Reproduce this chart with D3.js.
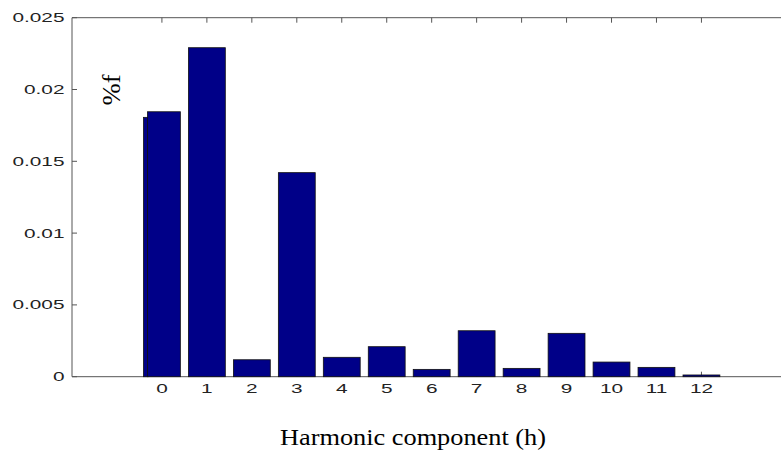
<!DOCTYPE html>
<html>
<head>
<meta charset="utf-8">
<script src="https://cdn.jsdelivr.net/npm/d3@7"></script>
<style>
body { margin: 0; background: #fff; }
svg { display: block; }
</style>
</head>
<body>
<svg></svg>
<script>
const width = 781;
const height = 454;
const barColor = '#000088';
const axisColor = '#555';
const stretch = 1.6;

// data
const harmonics = [0, 1, 2, 3, 4, 5, 6, 7, 8, 9, 10, 11, 12];
const values = [0.01845, 0.02291, 0.00118, 0.01421, 0.00135, 0.00209, 0.00051, 0.0032, 0.00058, 0.00302, 0.00102, 0.00065, 0.00012];
const ghostHarmonics = [0];
const ghostValues = [0.01806];
const yTicks = [0, 0.005, 0.01, 0.015, 0.02, 0.025];
const yTickLabels = ['0', '0.005', '0.01', '0.015', '0.02', '0.025'];
const xLabel = 'Harmonic component (h)';
const yLabel = '%f';

var svg = d3.select('svg').attr('width', width).attr('height', height);

var x = d3.scaleLinear().domain([-2, 15]).range([72, 72 + 17 * 44.96]);
var y = d3.scaleLinear().domain([0, 0.025]).range([376.7, 17.7]);
var barW = 0.82;

// axis box lines
svg.append('line').attr('x1', x(-2)).attr('x2', width).attr('y1', y(0)).attr('y2', y(0))
.style('stroke', axisColor);
svg.append('line').attr('x1', x(-2)).attr('x2', width).attr('y1', y(0.025)).attr('y2', y(0.025))
.style('stroke', axisColor);
svg.append('line').attr('x1', x(-2)).attr('x2', x(-2)).attr('y1', y(0)).attr('y2', y(0.025))
.style('stroke', axisColor);

// inner ticks
svg.selectAll('line.ytick').data(yTicks).enter().append('line').classed('ytick', true)
.attr('x1', x(-2)).attr('x2', x(-2) + 5)
.attr('y1', d => y(d)).attr('y2', d => y(d))
.style('stroke', axisColor);
svg.selectAll('line.xtick').data(harmonics).enter().append('line').classed('xtick', true)
.attr('x1', d => x(d)).attr('x2', d => x(d))
.attr('y1', y(0)).attr('y2', y(0) - 5)
.style('stroke', axisColor);
svg.selectAll('line.ttick').data(harmonics).enter().append('line').classed('ttick', true)
.attr('x1', d => x(d)).attr('x2', d => x(d))
.attr('y1', y(0.025)).attr('y2', y(0.025) + 5)
.style('stroke', axisColor);

// ghost step behind the first bar
svg.selectAll('rect.ghost').data(ghostHarmonics).enter().append('rect').classed('ghost', true)
.attr('x', d => x(d - barW / 2))
.attr('width', x(0.1) - x(0))
.attr('y', (d, i) => y(ghostValues[i]))
.attr('height', (d, i) => y(0) - y(ghostValues[i]))
.style('fill', barColor).style('stroke', '#111').style('stroke-width', 0.8);

// bars
svg.selectAll('rect.bar').data(harmonics).enter().append('rect').classed('bar', true)
.attr('x', d => x(d - barW / 2) + (ghostHarmonics.includes(d) ? 4 : 0))
.attr('width', d => x(barW) - x(0) - (ghostHarmonics.includes(d) ? 4 : 0))
.attr('y', (d, i) => y(values[i]))
.attr('height', (d, i) => y(0) - y(values[i]))
.style('fill', barColor).style('stroke', '#111').style('stroke-width', 0.8);

// tick labels (stretched like the original)
svg.selectAll('text.ylab').data(yTicks).enter().append('text').classed('ylab', true)
.attr('transform', d => `translate(${x(-2) - 7.5},${y(d)}) scale(${stretch},1)`)
.attr('text-anchor', 'end').attr('dy', '0.35em')
.style('font-family', 'Liberation Sans, Arial, sans-serif').style('font-size', '13px')
.style('fill', '#222')
.text((d, i) => yTickLabels[i]);

svg.selectAll('text.xlab').data(harmonics).enter().append('text').classed('xlab', true)
.attr('transform', d => `translate(${x(d)},${y(0) + 12}) scale(${stretch},1)`)
.attr('text-anchor', 'middle').attr('dy', '0.35em')
.style('font-family', 'Liberation Sans, Arial, sans-serif').style('font-size', '13px')
.style('fill', '#222')
.text(d => d);

// axis titles
svg.append('text')
.attr('x', 413).attr('y', 445)
.attr('text-anchor', 'middle')
.attr('textLength', 266).attr('lengthAdjust', 'spacingAndGlyphs')
.style('font-family', 'Liberation Serif, Times New Roman, serif').style('font-size', '22.5px')
.style('fill', '#000')
.text(xLabel);

svg.append('text')
.attr('transform', 'translate(120,90) rotate(-90)')
.attr('text-anchor', 'middle')
.attr('textLength', 31).attr('lengthAdjust', 'spacingAndGlyphs')
.style('font-family', 'Liberation Serif, Times New Roman, serif').style('font-size', '25px')
.style('fill', '#000')
.text(yLabel);
</script>
</body>
</html>
